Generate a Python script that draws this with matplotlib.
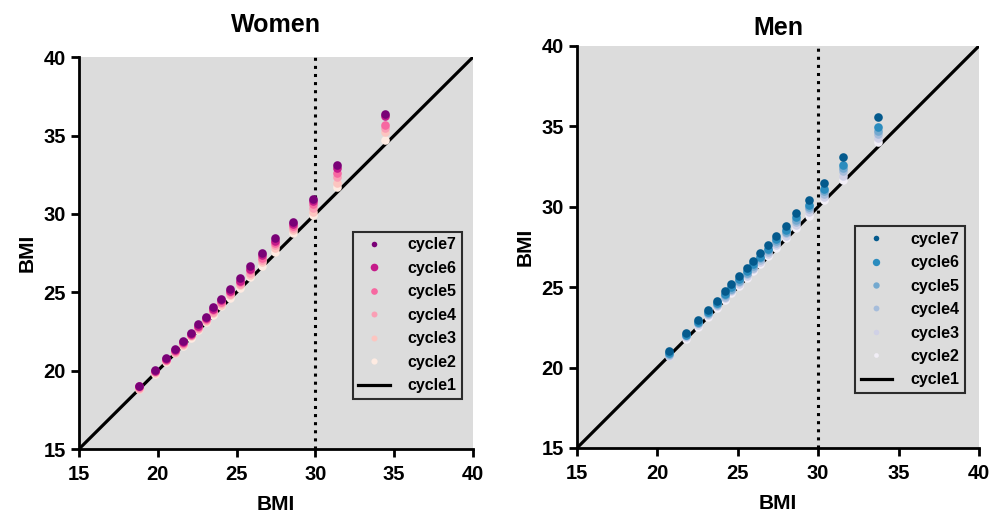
import numpy as np
import matplotlib.pyplot as plt
from matplotlib.lines import Line2D

plt.rcParams['font.family'] = ['Liberation Sans', 'DejaVu Sans']
plt.rcParams['font.weight'] = 'bold'

# women: cycle1 BMI (x) and later cycles (y)
w_c1 = [18.8, 19.8, 20.5, 21.1, 21.6, 22.1, 22.55, 23.05, 23.5, 24.0, 24.6, 25.2, 25.85, 26.6, 27.45, 28.6, 29.85, 31.4, 34.4]
w_c7 = [19.05, 20.05, 20.8, 21.35, 21.9, 22.4, 22.95, 23.45, 24.05, 24.6, 25.2, 25.9, 26.65, 27.5, 28.45, 29.5, 30.95, 33.15, 36.35]
w_c6 = [19.0, 20.0, 20.75, 21.3, 21.8, 22.35, 22.85, 23.35, 23.95, 24.5, 25.1, 25.75, 26.5, 27.35, 28.3, 29.35, 30.8, 32.9, 36.25]
w_c5 = [18.95, 19.95, 20.7, 21.25, 21.75, 22.3, 22.8, 23.3, 23.85, 24.4, 25.0, 25.65, 26.4, 27.2, 28.15, 29.2, 30.6, 32.6, 35.65]
w_c4 = [18.9, 19.9, 20.65, 21.2, 21.7, 22.25, 22.75, 23.25, 23.75, 24.3, 24.9, 25.55, 26.25, 27.05, 28.0, 29.1, 30.4, 32.35, 35.45]
w_c3 = [18.85, 19.85, 20.6, 21.15, 21.65, 22.2, 22.65, 23.15, 23.65, 24.2, 24.8, 25.45, 26.1, 26.9, 27.8, 28.95, 30.15, 31.95, 35.2]
w_c2 = [18.8, 19.8, 20.55, 21.1, 21.6, 22.1, 22.6, 23.1, 23.55, 24.1, 24.65, 25.3, 25.95, 26.7, 27.6, 28.75, 29.95, 31.7, 34.7]

# men
m_c1 = [20.7, 21.8, 22.55, 23.15, 23.7, 24.2, 24.6, 25.05, 25.55, 25.95, 26.4, 26.9, 27.4, 28.0, 28.6, 29.4, 30.35, 31.55, 33.75]
m_c7 = [21.05, 22.15, 22.95, 23.55, 24.15, 24.75, 25.2, 25.7, 26.2, 26.6, 27.1, 27.6, 28.2, 28.8, 29.6, 30.4, 31.45, 33.1, 35.6]
m_c6 = [20.9, 22.05, 22.85, 23.45, 24.0, 24.55, 25.0, 25.5, 26.0, 26.45, 26.9, 27.4, 28.0, 28.55, 29.35, 30.1, 31.1, 32.6, 34.95]
m_c5 = [20.85, 22.0, 22.8, 23.4, 23.95, 24.5, 24.9, 25.4, 25.9, 26.3, 26.8, 27.3, 27.9, 28.45, 29.2, 30.0, 30.95, 32.4, 34.7]
m_c4 = [20.8, 21.95, 22.75, 23.35, 23.9, 24.4, 24.85, 25.3, 25.8, 26.2, 26.7, 27.2, 27.75, 28.35, 29.05, 29.85, 30.8, 32.2, 34.5]
m_c3 = [20.75, 21.9, 22.65, 23.25, 23.8, 24.3, 24.75, 25.2, 25.7, 26.1, 26.55, 27.05, 27.6, 28.2, 28.85, 29.65, 30.6, 31.9, 34.3]
m_c2 = [20.7, 21.8, 22.55, 23.15, 23.7, 24.2, 24.65, 25.1, 25.6, 26.0, 26.45, 26.95, 27.45, 28.05, 28.65, 29.45, 30.4, 31.65, 34.05]

labels = ['cycle7', 'cycle6', 'cycle5', 'cycle4', 'cycle3', 'cycle2']
w_colors = ['#7a0177', '#c51b8a', '#f768a1', '#fa9fb5', '#fcc5c0', '#feebe2']
m_colors = ['#045a8d', '#2b8cbe', '#74a9cf', '#a6bddb', '#d0d1e6', '#f1eef6']
w_sizes = [4.0, 5.5, 4.8, 4.3, 4.3, 4.5]
m_sizes = [4.0, 5.3, 4.6, 4.2, 4.0, 3.4]
ticks = [15, 20, 25, 30, 35, 40]

fig = plt.figure(figsize=(10.05, 5.17), dpi=100)
ax1 = fig.add_axes([0.0786, 0.1315, 0.392, 0.758])
ax2 = fig.add_axes([0.5741, 0.1335, 0.400, 0.7776])


def panel(ax, title, x, ys, colors, sizes, leg_anchor, tpad, tpad_leg):
    ax.set_facecolor('#dcdcdc')
    ax.plot([15, 40], [15, 40], color='black', lw=2.3, zorder=2)
    ax.axvline(30, color='black', ls=':', lw=2.2, zorder=1)
    for y, c in reversed(list(zip(ys, colors))):
        ax.plot(x, y, 'o', color=c, ms=6.2, mec='none', zorder=3)
    handles = []
    for c, lab, s in zip(colors, labels, sizes):
        handles.append(Line2D([], [], marker='o', ls='none', color=c, ms=s, mec='none', label=lab))
    handles.append(Line2D([], [], color='black', lw=2.3, label='cycle1'))
    leg = ax.legend(handles=handles, loc='upper left', bbox_to_anchor=leg_anchor,
                    frameon=True, fancybox=False, facecolor='#dcdcdc', edgecolor='black',
                    prop={'weight': 'bold', 'size': 11.5}, labelspacing=0.53,
                    handlelength=1.95, handletextpad=tpad_leg, borderpad=0.35, borderaxespad=0)
    leg.get_frame().set_linewidth(1.5)
    ax.set_xlim(15, 40)
    ax.set_ylim(15, 40)
    ax.set_xticks(ticks)
    ax.set_yticks(ticks)
    for s in ['top', 'right']:
        ax.spines[s].set_visible(False)
    for s in ['left', 'bottom']:
        ax.spines[s].set_linewidth(2)
    ax.tick_params(width=2, length=5.5, labelsize=14.5, direction='out', pad=4)
    ax.tick_params(axis='x', pad=6)
    for t in ax.get_xticklabels() + ax.get_yticklabels():
        t.set_fontweight('bold')
    ax.set_xlabel('BMI', fontsize=15, fontweight='bold', labelpad=8)
    ax.set_ylabel('BMI', fontsize=15, fontweight='bold', labelpad=5)
    ax.set_title(title, fontsize=18, fontweight='bold', pad=tpad)


panel(ax1, 'Women', w_c1, [w_c7, w_c6, w_c5, w_c4, w_c3, w_c2], w_colors, w_sizes,
      (0.695, 0.554), 18, 1.1)
panel(ax2, 'Men', m_c1, [m_c7, m_c6, m_c5, m_c4, m_c3, m_c2], m_colors, m_sizes,
      (0.6915, 0.552), 8, 1.2)

fig.savefig('out.png', dpi=100)
